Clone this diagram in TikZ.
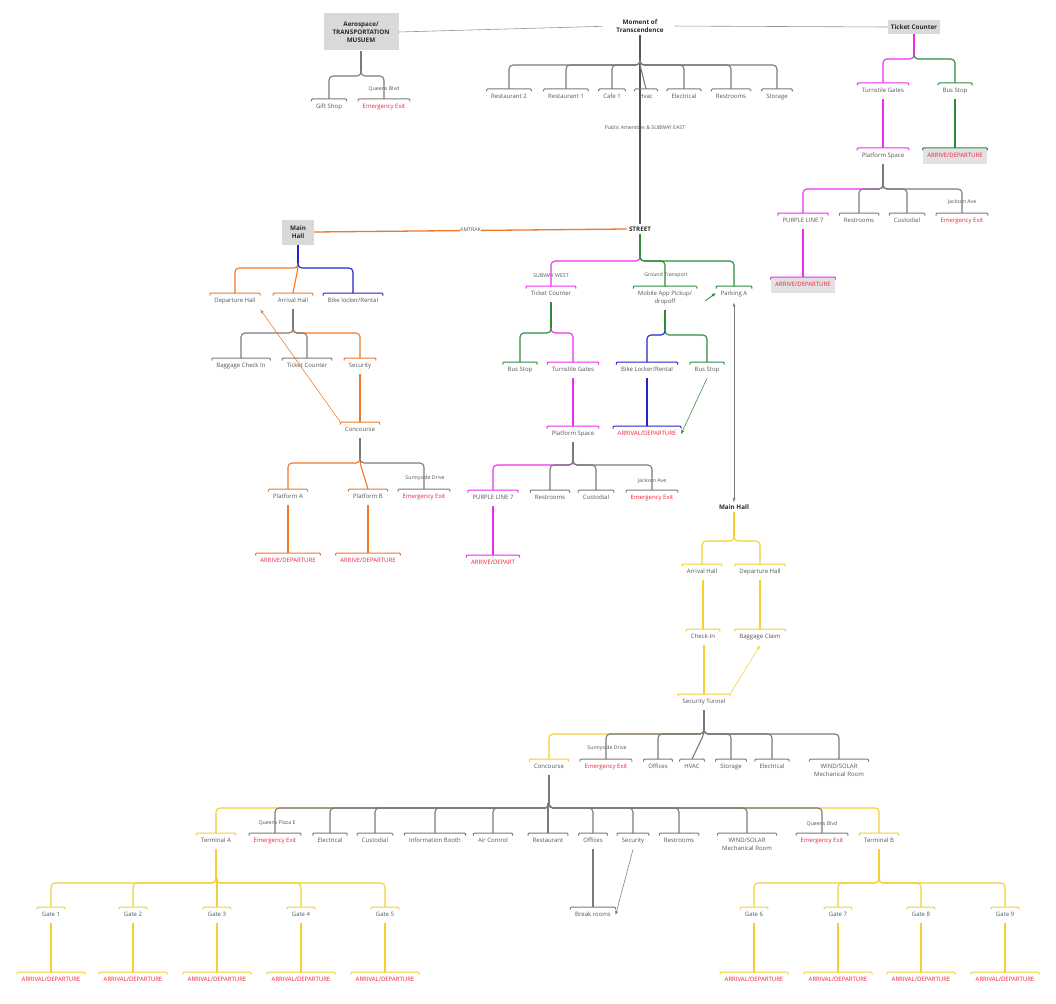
\documentclass[tikz,border=0pt]{standalone}
\usepackage{fontspec}
\setmainfont{Open Sans}
\usetikzlibrary{arrows.meta}
\definecolor{cgray}{HTML}{7A7A7A}
\definecolor{corange}{HTML}{F07828}
\definecolor{cmag}{HTML}{EE2CEE}
\definecolor{cgreen}{HTML}{2E8B3C}
\definecolor{cblue}{HTML}{2424CC}
\definecolor{cyel}{HTML}{F5D030}
\definecolor{cred}{HTML}{F0203A}
\definecolor{ctext}{HTML}{555555}
\definecolor{cdark}{HTML}{2A2A2A}
\definecolor{cbox}{HTML}{D9D9D9}
\newcommand\fs{\fontsize{6}{7.5}\selectfont}
\newcommand\brk[2]{\draw[#1,line width=1pt,rounded corners=1pt] ([yshift=-2.5pt]#2.north west) -- (#2.north west) -- (#2.north east) -- ([yshift=-2.5pt]#2.north east);}
\newcommand\trunk[3]{\pgfmathsetmacro\ty{#3-5}\draw[ln,#1] (#2.south) -- (#2.south |- 0,\ty);}
\newcommand\conn[4]{\pgfmathsetmacro\ty{#4-5}\draw[ln,#1] (#2.south |- 0,\ty) -- (#2.south |- 0,#4) -| (#3.north);\brk{#1}{#3}}
\newcommand\connd[4]{\pgfmathsetmacro\ty{#4-5}\draw[ln,#1] (#2.south |- 0,\ty) -- (#2.south |- 0,#4) -- (#3.north);\brk{#1}{#3}}
\newcommand\conns[3]{\draw[ln,#1] (#3.north |- #2.south) -- (#3.north);\brk{#1}{#3}}
\begin{document}
\begin{tikzpicture}[x=1pt,y=-1pt,
 base/.style={anchor=north,inner xsep=4.5pt,font=\fs,text=ctext},
 t/.style={base,inner ysep=5pt,text height=4.5pt,text depth=1.5pt},
 tr/.style={t,text=cred},
 tt/.style={base,align=center,inner ysep=5pt},
 lab/.style={font=\fontsize{5.2}{6}\selectfont,text=ctext,inner sep=0.5pt},
 hd/.style={font=\fontsize{6.3}{8}\selectfont\bfseries,text=cdark,align=center,inner sep=2pt},
 ln/.style={line width=1.1pt,rounded corners=4pt},
 rel/.style={cgray!80,line width=0.6pt},
 arr/.style={line width=0.55pt,-{Latex[length=4pt,width=3pt]}},
]
\fill[white] (0,0) rectangle (1056,1003);
\useasboundingbox (0,0) rectangle (1056,1003);

% ---------- top level ----------
\node[hd,fill=cbox,minimum width=75pt,minimum height=37pt] (aero) at (361,32) {Aerospace/\\TRANSPORTATION\\MUSUEM};
\node[hd] (moment) at (640,26) {Moment of\\Transcendence};
\node[hd,fill=cbox,minimum width=52pt,minimum height=14pt] (tc1) at (914,27) {Ticket Counter};
\draw[rel,shorten >=12pt] (aero.east) -- (moment.west);
\draw[rel,shorten <=9pt] (moment.east) -- (tc1.west);

% STREET and the main line
\node[hd] (street) at (640,229) {STREET};
\draw[line width=1.1pt,cdark!80] (moment.south) -- (street.north);
\node[lab] (lpa) at (645,128) {Public Amenities \& SUBWAY EAST};

% Moment children
\node[t] (rest2) at (509,89) {Restaurant 2};
\node[t] (rest1) at (566,89) {Restaurant 1};
\node[t] (cafe) at (612,89) {Cafe 1};
\node[t] (hvac1) at (646,89) {Hvac};
\node[t] (elec1) at (684,89) {Electrical};
\node[t] (restr1) at (731,89) {Restrooms};
\node[t] (stor1) at (777,89) {Storage};
\conn{cgray}{moment}{rest2}{65}
\conn{cgray}{moment}{rest1}{65}
\conn{cgray}{moment}{cafe}{65}
\connd{cgray}{moment}{hvac1}{65}
\conn{cgray}{moment}{elec1}{65}
\conn{cgray}{moment}{restr1}{65}
\conn{cgray}{moment}{stor1}{65}

% Aero children
\node[t] (gift) at (329,99) {Gift Shop};
\node[tr] (emA) at (384,99) {Emergency Exit};
\node[lab] (laA) at (384,89) {Queens Blvd};
\trunk{cgray}{aero}{76}
\conn{cgray}{aero}{gift}{76}
\conn{cgray}{aero}{emA}{76}

% Main Hall (left)
\node[hd,fill=cbox,minimum width=32pt,minimum height=25pt] (mh1) at (298,232) {Main\\Hall};
\draw[corange,line width=1.3pt] (mh1.east) -- (street.west) node[midway,lab,fill=white,yshift=1pt] (lam) {AMTRAK};

\node[t] (dep1) at (235,293) {Departure Hall};
\node[t] (arr1) at (293,293) {Arrival Hall};
\node[t] (bike1) at (353,293) {Bike locker/Rental};
\trunk{cblue}{mh1}{268}
\conn{corange}{mh1}{dep1}{268}
\connd{corange}{mh1}{arr1}{268}
\conn{cblue}{mh1}{bike1}{268}

\node[t] (bag1) at (241,358) {Baggage Check In};
\node[t] (tcl) at (307,358) {Ticket Counter};
\node[t] (sec1) at (360,358) {Security};
\trunk{cgray}{arr1}{333}
\conn{corange}{arr1}{sec1}{333}
\conn{cgray}{arr1}{bag1}{333}
\conn{cgray}{arr1}{tcl}{333}

\node[t] (conc1) at (360,422) {Concourse};
\conns{corange}{sec1}{conc1}

\node[t] (platA) at (288,489) {Platform A};
\node[t] (platB) at (368,489) {Platform B};
\node[tr] (emB) at (424,489) {Emergency Exit};
\node[lab] (laB) at (425,478) {Sunnyside Drive};
\trunk{cgray}{conc1}{463}
\conn{corange}{conc1}{platA}{463}
\connd{corange}{conc1}{platB}{463}
\conn{cgray}{conc1}{emB}{463}

\node[tr] (ad1) at (288,553) {ARRIVE/DEPARTURE};
\node[tr] (ad2) at (368,553) {ARRIVE/DEPARTURE};
\conns{corange}{platA}{ad1}
\conns{corange}{platB}{ad2}
\draw[arr,corange] (conc1.north west) -- (dep1.south east);

% STREET children
\node[t] (tcm) at (551,286) {Ticket Counter};
\node[lab] (laC) at (551,276) {SUBWAY WEST};
\node[tt] (mob) at (665,286) {Mobile App Pickup/\\dropoff};
\node[lab] (laD) at (666,275) {Ground Transport};
\node[t] (park) at (734,286) {Parking A};
\trunk{cgreen}{street}{261}
\conn{cmag}{street}{tcm}{261}
\conn{cgreen}{street}{mob}{261}
\conn{cgreen}{street}{park}{261}

\node[t] (bus1) at (520,362) {Bus Stop};
\node[t] (turn1) at (573,362) {Turnstile Gates};
\trunk{cgreen}{tcm}{333}
\conn{cmag}{tcm}{turn1}{333}
\conn{cgreen}{tcm}{bus1}{333}
\node[t] (plat1) at (573,426) {Platform Space};
\conns{cmag}{turn1}{plat1}

\node[t] (bikem) at (647,362) {Bike Locker/Rental};
\node[t] (bus2) at (707,362) {Bus Stop};
\trunk{cgreen}{mob}{335}
\conn{cblue}{mob}{bikem}{335}
\conn{cgreen}{mob}{bus2}{335}
\node[tr] (ardm) at (647,426) {ARRIVAL/DEPARTURE};
\conns{cblue}{bikem}{ardm}
\draw[arr,cgreen] (bus2.south) -- (ardm.east);

\coordinate (ga) at (705,301);
\coordinate (gb) at (716,293);
\draw[cgreen,line width=0.8pt,-{Latex[length=4pt,width=3.5pt]}] (ga) -- (gb);

\node[t] (pl7) at (493,490) {PURPLE LINE 7};
\node[t] (rr1) at (550,490) {Restrooms};
\node[t] (cu1) at (596,490) {Custodial};
\node[tr] (emC) at (652,490) {Emergency Exit};
\node[lab] (laE) at (652,481) {Jackson Ave};
\trunk{cgray}{plat1}{465}
\conn{cmag}{plat1}{pl7}{465}
\conn{cgray}{plat1}{rr1}{465}
\conn{cgray}{plat1}{cu1}{465}
\conn{cgray}{plat1}{emC}{465}
\node[tr] (ad3) at (493,555) {ARRIVE/DEPART};
\conns{cmag}{pl7}{ad3}

% ---------- top right ----------
\node[t] (turn2) at (883,83) {Turnstile Gates};
\node[t] (bus3) at (955,83) {Bus Stop};
\trunk{cmag}{tc1}{59}
\conn{cgreen}{tc1}{bus3}{59}
\conn{cmag}{tc1}{turn2}{59}
\node[t] (plat2) at (883,148) {Platform Space};
\node[tr,fill=cbox!75] (ad4) at (955,148) {ARRIVE/DEPARTURE};
\conns{cmag}{turn2}{plat2}
\conns{cgreen}{bus3}{ad4}

\node[t] (pl72) at (803,213) {PURPLE LINE 7};
\node[t] (rr2) at (859,213) {Restrooms};
\node[t] (cu2) at (907,213) {Custodial};
\node[tr] (emD) at (962,213) {Emergency Exit};
\node[lab] (laF) at (962,202) {Jackson Ave};
\trunk{cgray}{plat2}{189}
\conn{cmag}{plat2}{pl72}{189}
\conn{cgray}{plat2}{rr2}{189}
\conn{cgray}{plat2}{cu2}{189}
\conn{cgray}{plat2}{emD}{189}
\node[tr,fill=cbox!75] (ad5) at (803,277) {ARRIVE/DEPARTURE};
\conns{cmag}{pl72}{ad5}

% ---------- right lower ----------
\node[hd] (mh2) at (734,507) {Main Hall};
\draw[cgray,line width=0.6pt,{Latex[length=4pt,width=3pt]}-{Latex[length=4pt,width=3pt]}] (park.south) -- (mh2.north);

\node[t] (arr2) at (702,564) {Arrival Hall};
\node[t] (dep2) at (760,564) {Departure Hall};
\trunk{cyel}{mh2}{541}
\conn{cyel}{mh2}{arr2}{541}
\conn{cyel}{mh2}{dep2}{541}
\node[t] (chk) at (703,629) {Check-In};
\node[t] (bag2) at (760,629) {Baggage Claim};
\conns{cyel}{arr2}{chk}
\conns{cyel}{dep2}{bag2}
\node[t] (st) at (704,694) {Security Tunnel};
\conns{cyel}{chk}{st}
\draw[arr,cyel] (st.north east) -- (bag2.south);

\node[t] (conc2) at (549,759) {Concourse};
\node[tr] (emE) at (606,759) {Emergency Exit};
\node[lab] (laG) at (607,748) {Sunnyside Drive};
\node[t] (off1) at (658,759) {Offices};
\node[t] (hvac2) at (692,759) {HVAC};
\node[t] (stor2) at (731,759) {Storage};
\node[t] (elec2) at (772,759) {Electrical};
\node[tt] (wind1) at (839,759) {WIND/SOLAR\\Mechanical Room};
\trunk{cgray}{st}{734}
\conn{cyel}{st}{conc2}{734}
\conn{cgray}{st}{emE}{734}
\conn{cgray}{st}{off1}{734}
\connd{cgray}{st}{hvac2}{734}
\conn{cgray}{st}{stor2}{734}
\conn{cgray}{st}{elec2}{734}
\conn{cgray}{st}{wind1}{734}

\node[t] (termA) at (216,833) {Terminal A};
\node[tr] (emF) at (275,833) {Emergency Exit};
\node[lab] (laH) at (277,823) {Queens Plaza E};
\node[t] (elec3) at (330,833) {Electrical};
\node[t] (cust3) at (375,833) {Custodial};
\node[t] (info) at (435,833) {Information Booth};
\node[t] (air) at (493,833) {Air Control};
\node[t] (rest3) at (548,833) {Restaurant};
\node[t] (off2) at (593,833) {Offices};
\node[t] (sec2) at (633,833) {Security};
\node[t] (rr3) at (679,833) {Restrooms};
\node[tt] (wind2) at (747,833) {WIND/SOLAR\\Mechanical Room};
\node[tr] (emG) at (822,833) {Emergency Exit};
\node[lab] (laI) at (822,824) {Queens Blvd};
\node[t] (termB) at (879,833) {Terminal B};
\trunk{cgray}{conc2}{808}
\conn{cyel}{conc2}{termA}{808}
\conn{cyel}{conc2}{termB}{808}
\conn{cgray}{conc2}{emF}{808}
\conn{cgray}{conc2}{elec3}{808}
\conn{cgray}{conc2}{cust3}{808}
\conn{cgray}{conc2}{info}{808}
\conn{cgray}{conc2}{air}{808}
\draw[ln,cgray] (rest3.north |- 0,803) -- (rest3.north);\brk{cgray}{rest3}
\conn{cgray}{conc2}{off2}{808}
\conn{cgray}{conc2}{sec2}{808}
\conn{cgray}{conc2}{rr3}{808}
\conn{cgray}{conc2}{wind2}{808}
\conn{cgray}{conc2}{emG}{808}

\node[t] (brk) at (593,907) {Break rooms};
\conns{cgray}{off2}{brk}
\draw[arr,cgray] (sec2.south) -- (brk.east);

% gates
\foreach \n/\x in {1/51,2/133,3/217,4/301,5/385,6/754,7/838,8/921,9/1005}{
  \node[t] (g\n) at (\x,907) {Gate \n};
  \node[tr] (a\n) at (\x,972) {ARRIVAL/DEPARTURE};
}
\trunk{cyel}{termA}{883}
\trunk{cyel}{termB}{883}
\foreach \n in {1,2,4,5}{\conn{cyel}{termA}{g\n}{883}}
\draw[ln,cyel] (g3.north |- 0,878) -- (g3.north);\brk{cyel}{g3}
\foreach \n in {6,7,8,9}{\conn{cyel}{termB}{g\n}{883}}
\foreach \n in {1,...,9}{\conns{cyel}{g\n}{a\n}}
\end{tikzpicture}
\end{document}
